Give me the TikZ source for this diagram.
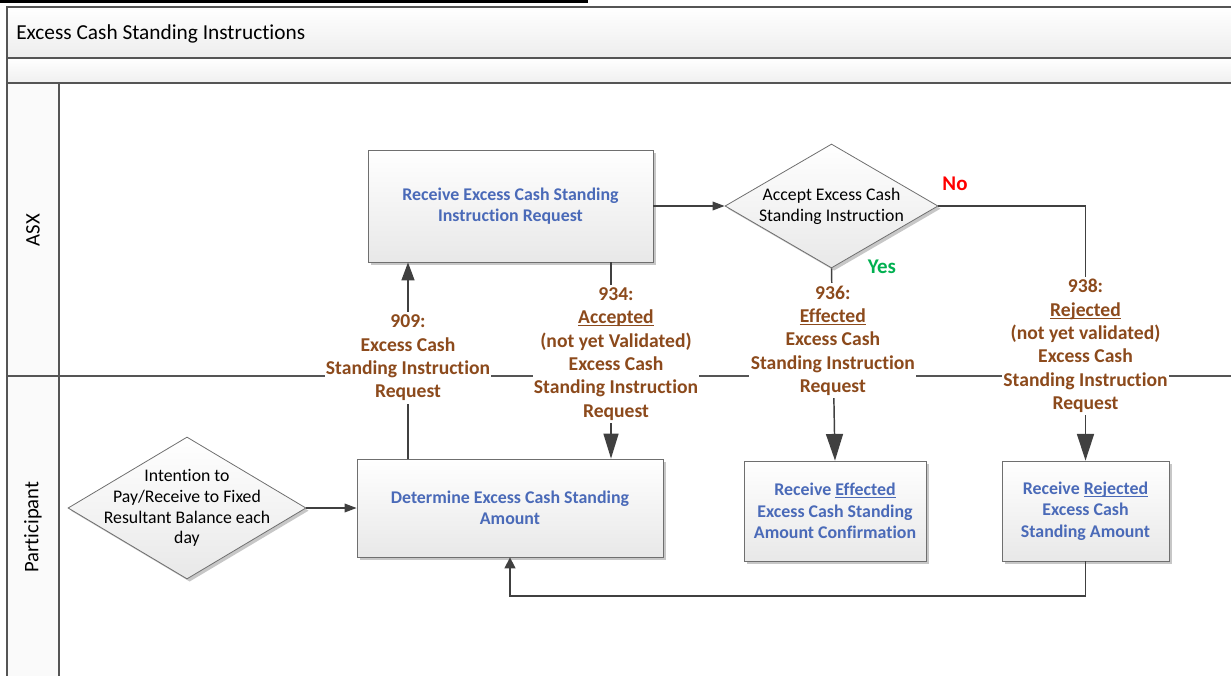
\documentclass[tikz,border=0pt]{standalone}
\usepackage{fontspec}
\setmainfont[Ligatures=NoCommon]{Carlito}
\usetikzlibrary{shapes.geometric,arrows.meta,shadows}
\definecolor{lineC}{HTML}{404040}
\definecolor{borderC}{HTML}{6F6F6F}
\definecolor{frameC}{HTML}{555555}
\definecolor{blueT}{HTML}{4A6AB8}
\definecolor{brownT}{HTML}{8C4A1C}
\definecolor{greenT}{HTML}{00B050}
\newcommand\myul[1]{\setbox0\hbox{#1}\rlap{\rule[-1.9pt]{\wd0}{0.75pt}}\box0}
\begin{document}
\begin{tikzpicture}[x=0.75pt,y=-0.75pt,
  shad/.style={drop shadow={shadow xshift=2pt,shadow yshift=-2pt,fill=black!22,opacity=1}},
  proc/.style={rectangle, draw=borderC, line width=0.6pt, top color=white, bottom color=black!9, shad,
    font=\fontsize{13.4}{16}\selectfont\bfseries, text=blueT, align=center, inner sep=0pt},
  decision/.style={diamond, draw=borderC, line width=0.6pt, top color=white, bottom color=black!9, shad, inner sep=0pt},
  dtext/.style={font=\fontsize{13.3}{15.6}\selectfont, align=center, text=black, inner sep=0pt},
  flow/.style={draw=lineC, line width=1.1pt},
  msg/.style={fill=white, text=brownT, font=\fontsize{14.7}{17.5}\selectfont\bfseries, align=center, inner xsep=1pt, inner ysep=2pt},
  bigtip/.style={-{Triangle[width=12.75pt,length=20pt]}},
  tipB/.style={-{Triangle[width=11.25pt,length=18.75pt]}},
  tipC/.style={-{Triangle[width=9.75pt,length=13.5pt]}},
  smalltip/.style={-{Triangle[width=6.5pt,length=9pt]}},
  lanetxt/.style={font=\fontsize{15.5}{18}\selectfont, text=black}
]
\useasboundingbox (0,0) rectangle (1231,675);
% top cut-off rule
\fill[black] (0,-1) rectangle (588,3);
% pool frame
\shade[top color=white, bottom color=black!7] (7,7) rectangle (1240,58);
\shade[top color=white, bottom color=black!6] (7,58) rectangle (1240,83);
\fill[black!2] (7,83) rectangle (59,680);
\draw[frameC, line width=0.9pt] (1240,7) -- (7,7) -- (7,680);
\draw[frameC, line width=0.9pt] (7,58) -- (1240,58);
\draw[frameC, line width=0.9pt] (7,83) -- (1240,83);
\draw[frameC, line width=0.8pt] (59,83) -- (59,680);
\draw[frameC, line width=0.8pt] (7,376) -- (1240,376);
\node[anchor=west, font=\fontsize{16}{19}\selectfont, inner sep=0pt] (title) at (16,34) {Excess Cash Standing Instructions};
\node[lanetxt, rotate=90] (asx) at (33,230) {ASX};
\node[lanetxt, rotate=90] (part) at (33,527) {Participant};

% nodes
\node[proc, minimum width={285*0.75pt}, minimum height={112*0.75pt}] (A) at (510.5,206) {Receive Excess Cash Standing\\Instruction Request};
\node[decision, minimum width={213*0.75pt}, minimum height={124*0.75pt},
  label={[dtext]center:{Accept Excess Cash\\Standing Instruction}}] (dec) at (831.5,206) {};
\node[decision, minimum width={238*0.75pt}, minimum height={142*0.75pt},
  label={[dtext]center:{Intention to\\Pay/Receive to Fixed\\Resultant Balance each\\day}}] (E) at (187,508) {};
\node[proc, minimum width={306*0.75pt}, minimum height={98*0.75pt}] (B) at (510,508) {Determine Excess Cash Standing\\Amount};
\node[proc, minimum width={182*0.75pt}, minimum height={100*0.75pt}] (C) at (835,511) {Receive \myul{Effected}\\Excess Cash Standing\\Amount Confirmation};
\node[proc, minimum width={167*0.75pt}, minimum height={100*0.75pt}] (D) at (1085.5,511) {Receive \myul{Rejected}\\Excess Cash\\Standing Amount};

\node[font=\fontsize{15.7}{18}\selectfont\bfseries, text=red, inner sep=0pt] (no) at (955,184) {No};
\node[font=\fontsize{15.7}{18}\selectfont\bfseries, text=greenT, inner sep=0pt] (yes) at (882,267) {Yes};

\coordinate (x909) at (408,0);
\coordinate (x934) at (611,0);
\coordinate (ret) at (510,596);

% connectors
\draw[flow, smalltip] (E.east) -- (B.west);
\draw[flow, smalltip] (A.east) -- (dec.west);
\draw[flow, tipC] (B.north -| x909) -- node[msg, pos=0.513] (m909) {909:\\Excess Cash\\Standing Instruction\\Request} (A.south -| x909);
\draw[flow, tipB] (A.south -| x934) -- node[msg, pos=0.467, xshift=3.75pt] (m934) {934:\\\myul{Accepted}\\(not yet Validated)\\Excess Cash\\Standing Instruction\\Request} (B.north -| x934);
\draw[flow, bigtip] (dec.south) -- node[msg, pos=0.376] (m936) {936:\\\myul{Effected}\\Excess Cash\\Standing Instruction\\Request} (C.north);
\draw[flow, bigtip] (dec.east) -| node[msg, pos=0.775] (m938) {938:\\\myul{Rejected}\\(not yet validated)\\Excess Cash\\Standing Instruction\\Request} (D.north);
\draw[flow, -{Triangle[width=8.25pt,length=8.25pt]}] (D.south) |- (ret) -- (B.south);
\end{tikzpicture}
\end{document}
